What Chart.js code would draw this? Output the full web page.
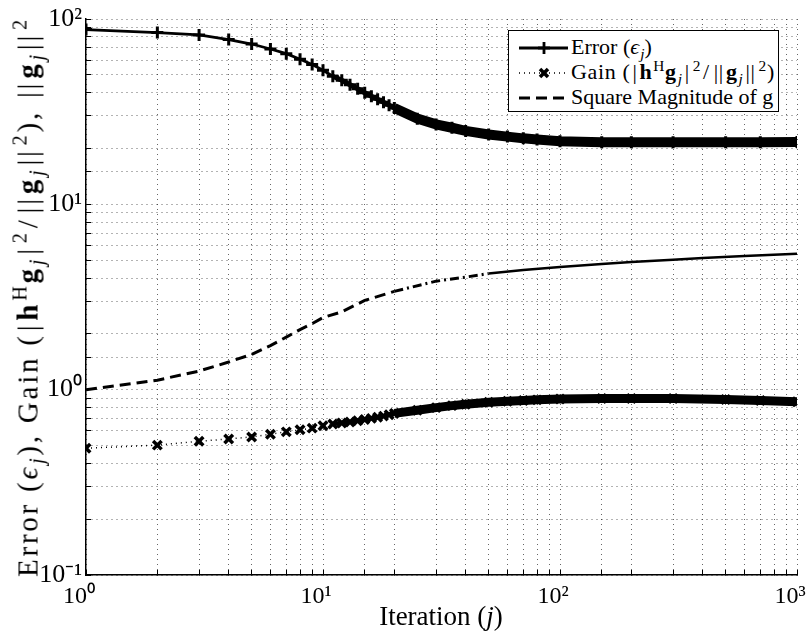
<!DOCTYPE html>
<html>
<head>
<meta charset="utf-8">
<script src="https://cdn.jsdelivr.net/npm/chart.js@4.4.0/dist/chart.umd.min.js"></script>
<style>
    body { margin: 0; background: #fff; }
    #wrap { position: relative; width: 812px; height: 639px; font-family: "Liberation Serif", "Times New Roman", serif; color: #000; }
    #chart { position: absolute; left: 0; top: 0; }
    sub, sup { font-size: 0.7em; line-height: 0; }
    sub { vertical-align: -0.3em; margin-left: 1px; }
    sup { vertical-align: 0.55em; margin-left: 1px; }
    .m { margin: 0 2px; }
    #legend { position: absolute; left: 508px; top: 30px; width: 271px; height: 82px; border: 1.5px solid #000; background: #fff; box-sizing: border-box; }
    .row { position: absolute; left: 0; height: 25px; font-size: 22px; white-space: nowrap; }
    .row svg { position: absolute; left: 8px; top: 0; }
    .row span.t { position: absolute; left: 62px; top: -2px; }
    #xtitle { position: absolute; left: 0; width: 882px; top: 601px; text-align: center; font-size: 27px; }
    #ytitle { position: absolute; left: 28px; top: 297px; font-size: 29px; white-space: nowrap; transform: translate(-50%, -50%) rotate(-90deg); }
</style>
</head>
<body>
<div id="wrap">
    <canvas id="chart" width="812" height="639"></canvas>
    <div id="legend">
        <div class="row" style="top:5px">
            <svg width="52" height="25"><line x1="2" y1="12" x2="51" y2="12" stroke="#000" stroke-width="2.8"/><line x1="27" y1="6" x2="27" y2="18" stroke="#000" stroke-width="2.8"/><line x1="21" y1="12" x2="33" y2="12" stroke="#000" stroke-width="2.8"/></svg>
            <span class="t">Error (<i>ϵ</i><sub><i>j</i></sub>)</span>
        </div>
        <div class="row" style="top:30px">
            <svg width="52" height="25"><line x1="2" y1="12" x2="51" y2="12" stroke="#000" stroke-width="1.5" stroke-dasharray="1,4"/><line x1="23" y1="8" x2="31" y2="16" stroke="#000" stroke-width="3.5"/><line x1="31" y1="8" x2="23" y2="16" stroke="#000" stroke-width="3.5"/></svg>
            <span class="t" id="gainText">Gain (<span class="m">|</span><b>h</b><sup>H</sup><b>g</b><sub><i>j</i></sub><span class="m">|</span><sup>2</sup><span class="m">/</span><span class="m">||</span><b>g</b><sub><i>j</i></sub><span class="m">||</span><sup>2</sup>)</span>
        </div>
        <div class="row" style="top:55px">
            <svg width="52" height="25"><line x1="2" y1="12" x2="51" y2="12" stroke="#000" stroke-width="3" stroke-dasharray="11,6"/></svg>
            <span class="t">Square Magnitude of g</span>
        </div>
    </div>
    <div id="xtitle">Iteration (<i>j</i>)</div>
    <div id="ytitle">Error (<i>ϵ</i><sub><i>j</i></sub>), Gain (<span class="m">|</span><b>h</b><sup>H</sup><b>g</b><sub><i>j</i></sub><span class="m">|</span><sup>2</sup><span class="m">/</span><span class="m">||</span><b>g</b><sub><i>j</i></sub><span class="m">||</span><sup>2</sup>), <span class="m">||</span><b>g</b><sub><i>j</i></sub><span class="m">||</span><sup>2</sup></div>
</div>
<script>
const iterations = [1, 2, 3, 4, 5, 6, 7, 8, 9, 10, 11, 12, 13, 14, 15, 16, 17, 18, 19, 20,
    25, 30, 35, 40, 50, 60, 70, 80, 100, 150, 200, 300, 500, 700, 1000];
const errorValues = [87.7, 84.5, 82, 77.4, 73.3, 68.9, 65, 60.6, 56.8, 52.9, 49.1, 46.7, 44.2, 42.0, 40.0, 38.3, 36.9, 35.6, 34.3, 33.1,
    29.0, 27.0, 25.9, 24.9, 23.8, 23.2, 22.7, 22.4, 21.9, 21.6, 21.6, 21.6, 21.6, 21.6, 21.7];
const gainValues = [0.483, 0.502, 0.527, 0.542, 0.556, 0.575, 0.592, 0.607, 0.62, 0.638, 0.652, 0.661, 0.67, 0.68, 0.69, 0.70, 0.71, 0.72, 0.733, 0.745,
    0.775, 0.80, 0.82, 0.835, 0.855, 0.866, 0.875, 0.881, 0.89, 0.895, 0.897, 0.895, 0.885, 0.875, 0.86];

// kwadratische magnitude, zonder markers
const magIterations = [1, 2, 3, 4, 5, 6, 7, 8, 9, 10, 12, 15, 20, 30, 40, 50, 70, 100, 150, 200, 300, 400, 600, 1000];
const magValues = [1.0, 1.125, 1.26, 1.41, 1.55, 1.73, 1.92, 2.11, 2.27, 2.45, 2.63, 3.03, 3.39, 3.85, 4.05, 4.23, 4.42, 4.59, 4.77, 4.89, 5.03, 5.13, 5.27, 5.42];

const xTickLabels = { 1: '10⁰', 10: '10¹', 100: '10²', 1000: '10³' };
const yTickLabels = { 0.1: '10⁻¹', 1: '10⁰', 10: '10¹', 100: '10²' };

function toPoints(xs, ys) {
    return xs.map((x, i) => ({ x: x, y: ys[i] }));
}

function decadeLabel(table, value) {
    for (const key in table) {
        if (Math.abs(Number(key) - value) < 1e-9 * Number(key)) return table[key];
    }
    return '';
}

// tekst spreiden tot de gewenste lengte
function spreadText(el, target) {
    const extra = target - el.offsetWidth;
    if (extra > 0) el.style.letterSpacing = (extra / el.textContent.length) + 'px';
}
spreadText(document.getElementById('ytitle'), 560);
spreadText(document.getElementById('gainText'), 204);

const serif = '"Liberation Serif", "Times New Roman", serif';
const gridOpts = {
    color: 'rgba(0,0,0,0.6)',
    lineWidth: 1,
    drawTicks: true,
    tickLength: -5,
    tickColor: '#000',
    tickWidth: 1,
    tickBorderDash: []
};

const ctx = document.getElementById('chart').getContext('2d');
new Chart(ctx, {
    type: 'line',
    data: {
        datasets: [
            {
                label: 'Error',
                data: toPoints(iterations, errorValues),
                borderColor: '#000',
                backgroundColor: '#000',
                borderWidth: 2.8,
                pointStyle: 'cross',
                pointRadius: 6,
                pointBorderWidth: 3,
                segment: { borderWidth: c => c.p0.parsed.x >= 20 ? 10 : (c.p0.parsed.x >= 11 ? 5 : 2.8) }
            },
            {
                label: 'Gain',
                data: toPoints(iterations, gainValues),
                borderColor: '#000',
                backgroundColor: '#000',
                borderWidth: 1.5,
                borderDash: [1, 4],
                pointStyle: 'crossRot',
                pointRadius: 6,
                pointBorderWidth: 3.5,
                segment: {
                    borderWidth: c => c.p0.parsed.x >= 20 ? 9 : (c.p0.parsed.x >= 11 ? 4 : 1.5),
                    borderDash: c => c.p0.parsed.x >= 11 ? [] : [1, 4]
                }
            },
            {
                label: 'Square Magnitude of g',
                data: toPoints(magIterations, magValues),
                borderColor: '#000',
                borderWidth: 3,
                borderDash: [11, 6],
                pointRadius: 0,
                segment: {
                    borderDash: c => c.p0.parsed.x >= 50 ? [] : (c.p0.parsed.x >= 20 ? [9, 4, 2, 4] : [11, 6]),
                    borderWidth: c => c.p0.parsed.x >= 50 ? 2.5 : 3
                }
            }
        ]
    },
    options: {
        responsive: false,
        animation: false,
        layout: { padding: { top: 19, right: 15, left: 0, bottom: 0 } },
        plugins: { legend: { display: false }, tooltip: { enabled: false } },
        elements: { line: { tension: 0 } },
        scales: {
            x: {
                type: 'logarithmic',
                min: 1,
                max: 1000,
                afterFit: scale => {
                    scale.height = 64;
                    scale.paddingLeft = 0;
                    scale.paddingRight = 0;
                },
                grid: gridOpts,
                border: { display: true, color: '#000', width: 1.5, dash: [1, 4] },
                ticks: {
                    autoSkip: false,
                    maxRotation: 0,
                    padding: 12,
                    labelOffset: -7,
                    color: '#000',
                    font: { family: serif, size: 24 },
                    callback: value => decadeLabel(xTickLabels, value)
                }
            },
            y: {
                type: 'logarithmic',
                min: 0.1,
                max: 100,
                afterFit: scale => {
                    scale.width = 86;
                    scale.paddingTop = 0;
                    scale.paddingBottom = 0;
                },
                grid: gridOpts,
                border: { display: true, color: '#000', width: 1.5, dash: [1, 4] },
                ticks: {
                    autoSkip: false,
                    padding: 9,
                    color: '#000',
                    font: { family: serif, size: 26 },
                    callback: value => decadeLabel(yTickLabels, value)
                }
            }
        }
    }
});
</script>
</body>
</html>
